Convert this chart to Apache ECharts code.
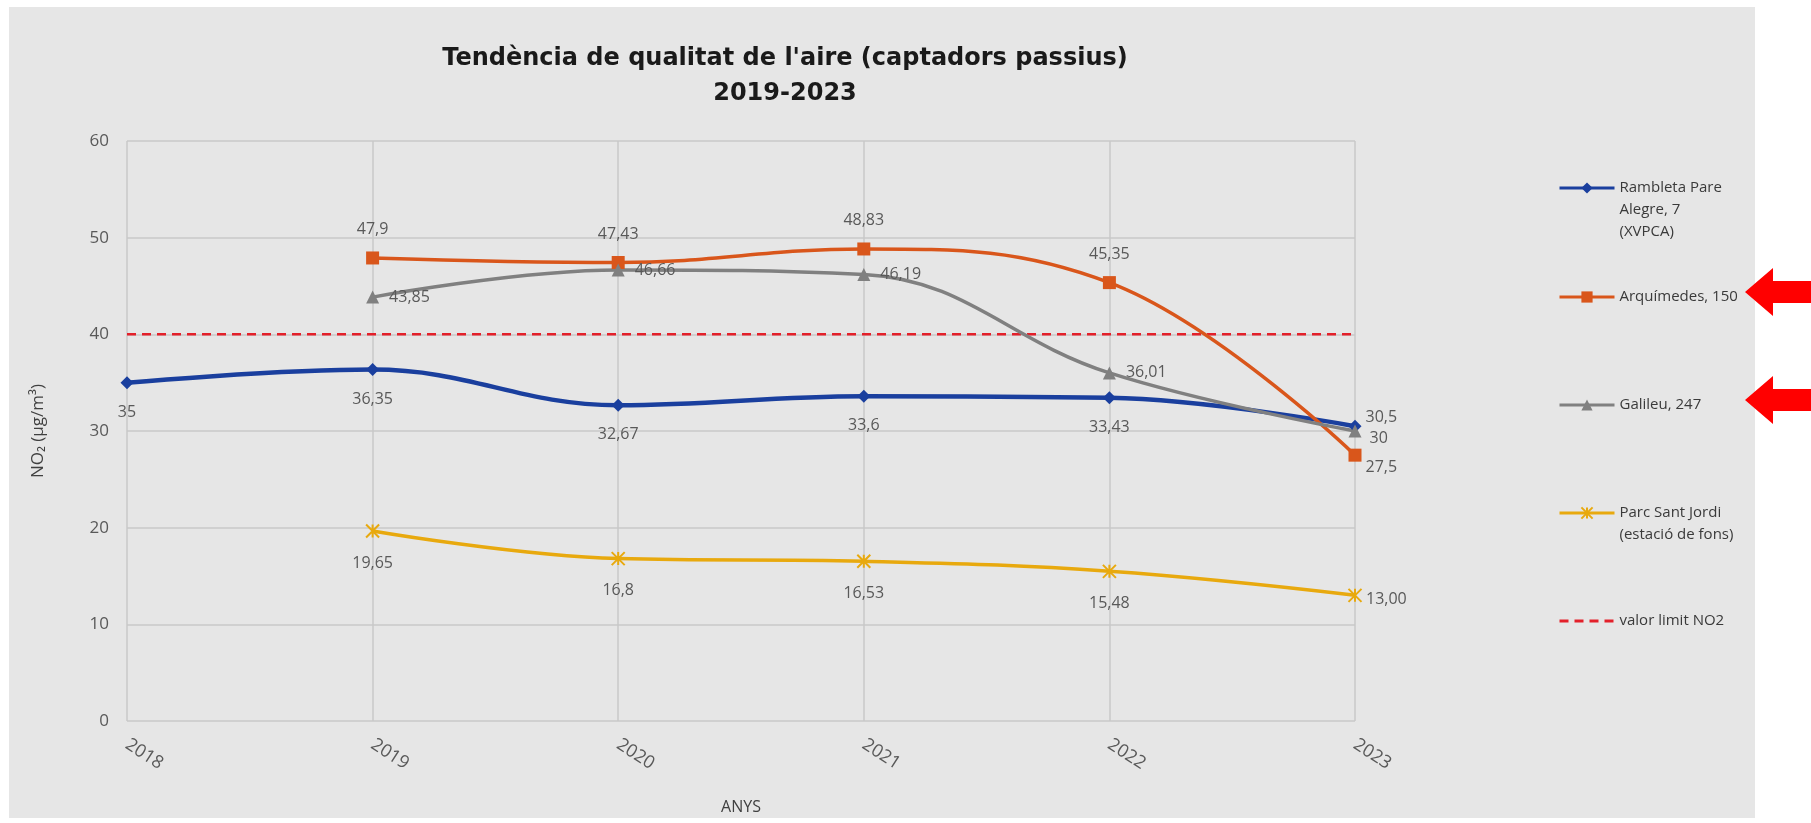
<!DOCTYPE html>
<html>
<head>
<meta charset="utf-8">
<script src="https://cdn.jsdelivr.net/npm/echarts@6/dist/echarts.min.js"></script>
<style>
html, body { margin: 0; padding: 0; background: #fff; }
#myChart { width: 1811px; height: 823px; }
</style>
</head>
<body>
<div id="myChart"></div>
<script>
// dades llegides del gràfic
var anys = ['2018', '2019', '2020', '2021', '2022', '2023'];
var rambleta = [35, 36.35, 32.67, 33.6, 33.43, 30.5];
var arquimedes = [null, 47.9, 47.43, 48.83, 45.35, 27.5];
var galileu = [null, 43.85, 46.66, 46.19, 36.01, 30];
var parcSantJordi = [null, 19.65, 16.8, 16.53, 15.48, 13.00];
var valorLimit = [40, 40, 40, 40, 40, 40];
var yTicks = [0, 10, 20, 30, 40, 50, 60];

var nomRambleta = 'Rambleta Pare\nAlegre, 7\n(XVPCA)';
var nomArquimedes = 'Arquímedes, 150';
var nomGalileu = 'Galileu, 247';
var nomParc = 'Parc Sant Jordi\n(estació de fons)';
var nomLimit = 'valor limit NO2';

var labelFont = { color: '#595959', fontFamily: 'Open Sans', fontSize: 16 };

// format amb coma decimal
function coma(v) { return String(v).replace('.', ','); }

// etiquetes que no van a la posició per defecte
function ambEtiqueta(arr, idx, label) {
    return arr.map(function (v, i) {
        return i === idx ? { value: v, label: label } : v;
    });
}

function serie(name, data, color, symbol, size, width, pos, dist, extra) {
    var s = {
        name: name,
        type: 'line',
        smooth: 0.4,
        data: data,
        symbol: symbol,
        symbolSize: size,
        lineStyle: { color: color, width: width },
        itemStyle: { color: color, borderColor: color, borderWidth: 0 },
        label: Object.assign({
            show: true,
            position: pos,
            distance: dist,
            formatter: function (p) { return coma(p.value); }
        }, labelFont),
        z: 3
    };
    return Object.assign(s, extra || {});
}

// llegendes separades per poder col·locar-les com a l'original;
// les línies buides de dalt fan que el marcador quedi a la primera línia
function llegenda(name, top, lines, extra) {
    var l = {
        data: [name],
        left: 1553,
        top: top,
        itemWidth: 55,
        itemHeight: 14,
        formatter: function (n) { return new Array(lines).join('\n') + n; },
        lineStyle: { width: 3 },
        textStyle: {
            color: '#3a3a3a',
            fontFamily: 'Open Sans',
            fontSize: 15,
            lineHeight: 22
        }
    };
    return Object.assign(l, extra || {});
}

function fletxa(y) {
    return {
        type: 'polygon',
        shape: { points: [[1745, y], [1773, y - 24], [1773, y - 11], [1811, y - 11], [1811, y + 11], [1773, y + 11], [1773, y + 24]] },
        style: { fill: '#ff0000' },
        z: 10
    };
}

var myChart = echarts.init(document.getElementById('myChart'));

var option = {
    backgroundColor: '#ffffff',
    animation: false,
    graphic: [
        { type: 'rect', shape: { x: 9, y: 7, width: 1746, height: 811 }, style: { fill: '#e6e6e6' }, z: -10, silent: true },
        fletxa(292),
        fletxa(400)
    ],
    title: {
        text: "Tendència de qualitat de l'aire (captadors passius)\n2019-2023",
        left: 780,
        top: 36,
        textAlign: 'center',
        textStyle: {
            fontFamily: 'DejaVu Sans',
            fontWeight: 'bold',
            fontSize: 24,
            lineHeight: 35,
            color: '#1a1a1a'
        }
    },
    legend: [
        llegenda(nomRambleta, 128, 3),
        llegenda(nomArquimedes, 281, 1),
        llegenda(nomGalileu, 389, 1),
        llegenda(nomParc, 475, 2),
        llegenda(nomLimit, 605, 1, { itemStyle: { opacity: 0 } })
    ],
    grid: { left: 127, right: 456, top: 141, bottom: 102, containLabel: false },
    xAxis: {
        type: 'category',
        data: anys,
        boundaryGap: false,
        name: 'ANYS',
        nameLocation: 'middle',
        nameGap: 78,
        nameTextStyle: { color: '#404040', fontFamily: 'Open Sans', fontSize: 16 },
        axisLine: { show: false },
        axisTick: { show: false },
        axisLabel: { rotate: -33, margin: 22, color: '#595959', fontFamily: 'Open Sans', fontSize: 18 },
        splitLine: { show: true, lineStyle: { color: '#c9c9c9', width: 1.5 } }
    },
    yAxis: {
        type: 'value',
        min: yTicks[0],
        max: yTicks[yTicks.length - 1],
        interval: yTicks[1] - yTicks[0],
        name: 'NO\u2082 (µg/m³)',
        nameLocation: 'middle',
        nameGap: 80,
        nameTextStyle: { color: '#404040', fontFamily: 'Open Sans', fontSize: 17 },
        axisLine: { show: false },
        axisTick: { show: false },
        axisLabel: { margin: 18, color: '#595959', fontFamily: 'Open Sans', fontSize: 17 },
        splitLine: { lineStyle: { color: '#c9c9c9', width: 1.5 } }
    },
    series: [
        serie(nomRambleta,
            ambEtiqueta(rambleta, 5, { position: 'right', distance: 4, offset: [0, -9] }),
            '#1a3f9e', 'diamond', 13, 4.5, 'bottom', 15),
        serie(nomArquimedes,
            ambEtiqueta(arquimedes, 5, { position: 'right', distance: 4, offset: [0, 12] }),
            '#d9561b', 'rect', 13, 3.5, 'top', 14),
        serie(nomGalileu,
            ambEtiqueta(galileu, 5, { position: 'right', distance: 8, offset: [0, 7] }),
            '#808080', 'triangle', 13, 3.5, 'right', 10),
        serie(nomParc, ambEtiqueta(parcSantJordi, 5, { position: 'right', distance: 2, offset: [0, 4] }),
            '#e8a90e', 'path://M0,0L10,10M10,0L0,10M5,0L5,10', 13, 3.5, 'bottom', 15,
            {
                itemStyle: { color: 'none', borderColor: '#e8a90e', borderWidth: 2 },
                label: Object.assign({
                    show: true, position: 'bottom', distance: 15,
                    formatter: function (p) {
                        var v = Number.isInteger(p.value) ? p.value.toFixed(2) : String(p.value);
                        return coma(v);
                    }
                }, labelFont)
            }),
        {
            name: nomLimit,
            type: 'line',
            data: valorLimit,
            symbol: 'none',
            lineStyle: { color: '#e3202a', width: 2.5, type: [9, 6] },
            itemStyle: { color: '#e3202a' },
            z: 2
        }
    ]
};

myChart.setOption(option);
</script>
</body>
</html>
